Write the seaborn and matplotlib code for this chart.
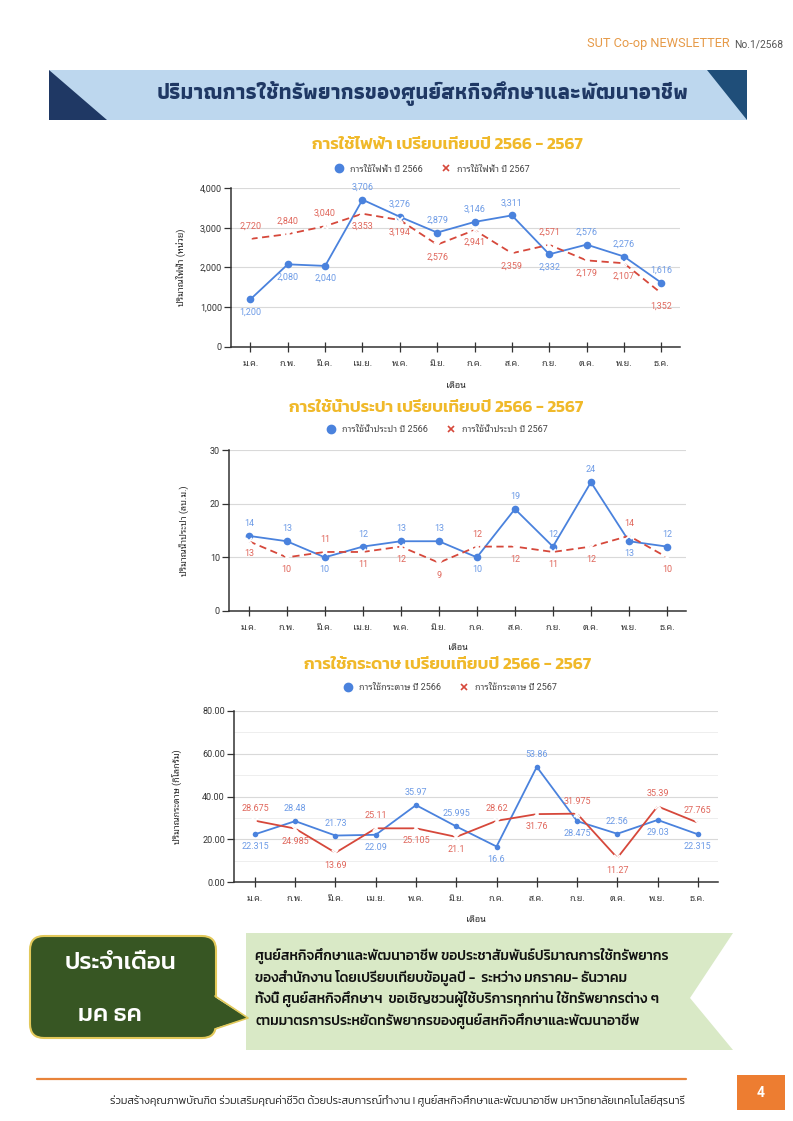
import numpy as np
import seaborn as sns
import matplotlib.pyplot as plt
from matplotlib import font_manager, ft2font
from matplotlib.lines import Line2D
from matplotlib.patches import Polygon, FancyBboxPatch, Rectangle
from matplotlib.ticker import FuncFormatter, MultipleLocator

# page size in px
W, H = 793, 1121

months = ["ม.ค.", "ก.พ.", "มี.ค.", "เม.ย.", "พ.ค.", "มิ.ย.", "ก.ค.", "ส.ค.", "ก.ย.", "ต.ค.", "พ.ย.", "ธ.ค."]

power_names = ["การใช้ไฟฟ้า ปี 2566", "การใช้ไฟฟ้า ปี 2567"]
power_2566 = [1200, 2080, 2040, 3706, 3276, 2879, 3146, 3311, 2332, 2576, 2276, 1616]
power_2567 = [2720, 2840, 3040, 3353, 3194, 2576, 2941, 2359, 2571, 2179, 2107, 1352]

water_names = ["การใช้น้ำประปา ปี 2566", "การใช้น้ำประปา ปี 2567"]
water_2566 = [14, 13, 10, 12, 13, 13, 10, 19, 12, 24, 13, 12]
water_2567 = [13, 10, 11, 11, 12, 9, 12, 12, 11, 12, 14, 10]

paper_names = ["การใช้กระดาษ ปี 2566", "การใช้กระดาษ ปี 2567"]
paper_2566 = [22.315, 28.48, 21.73, 22.09, 35.97, 25.995, 16.6, 53.86, 28.475, 22.56, 29.03, 22.315]
paper_2567 = [28.675, 24.985, 13.69, 25.11, 25.105, 21.1, 28.62, 31.76, 31.975, 11.27, 35.39, 27.765]


def thai_families():
    found = []
    for f in font_manager.fontManager.ttflist:
        try:
            if 0x0E01 in ft2font.FT2Font(f.fname).get_charmap():
                found.append(f.name)
        except Exception:
            pass
    return sorted(set(found))


def pick(prefs, avail):
    for p in prefs:
        if p in avail:
            return p
    return avail[0] if avail else "DejaVu Sans"


sns.set_style("white")
THAI_LIST = thai_families()
THAI = pick(["Kanit", "Prompt", "Mitr", "IBM Plex Sans Thai", "Anuphan"], THAI_LIST)
THAI_NARROW = pick(["Athiti", "Noto Sans Thai", THAI], THAI_LIST)
THAI_LOOP = pick(["Noto Sans Thai Looped", "Sarabun", "IBM Plex Sans Thai Looped", "Noto Sans Thai", THAI], THAI_LIST)
plt.rcParams["font.family"] = ["Roboto", THAI_LOOP, "DejaVu Sans"]
TH = [THAI, "DejaVu Sans"]
THN = [THAI_NARROW, "DejaVu Sans"]

BLUE, BLUE_T = "#4a82dd", "#6d9be6"
RED, RED_T = "#d6483b", "#e0675c"
GOLD = "#f0b92a"

fig = plt.figure(figsize=(W / 100, H / 100), dpi=100)


def frac(x0, y0, x1, y1):
    return [x0 / W, 1 - y1 / H, (x1 - x0) / W, (y1 - y0) / H]


# page decoration layer
bg = fig.add_axes([0, 0, 1, 1])
bg.set_xlim(0, W)
bg.set_ylim(H, 0)
bg.axis("off")

bg.text(730, 44, "SUT Co-op NEWSLETTER", ha="right", va="center", fontsize=9.2, color="#e69a48",
        family=["Roboto", "DejaVu Sans"])
bg.text(783, 44, "No.1/2568", ha="right", va="center", fontsize=7.4, color="#555555")

bg.add_patch(Rectangle((49, 70), 698, 50, fc="#bdd7ee", ec="none"))
bg.add_patch(Polygon([(49, 70), (49, 120), (107, 120)], fc="#1f3864", ec="none"))
bg.add_patch(Polygon([(707, 70), (747, 70), (747, 120)], fc="#1f4e79", ec="none"))
bg.text(423, 94, "ปริมาณการใช้ทรัพยากรของศูนย์สหกิจศึกษาและพัฒนาอาชีพ", ha="center", va="center",
        fontsize=15.6, fontweight="bold", color="#1f3864", family=THN)

# callout box
bg.add_patch(FancyBboxPatch((30, 936), 186, 102, boxstyle="round,pad=0,rounding_size=14",
                            fc="#375623", ec="#e2c95a", lw=1.5))
bg.add_patch(Polygon([(213, 996), (248, 1018), (213, 1029)], fc="#375623", ec="none"))
bg.plot([215, 248, 215], [996, 1018, 1029], color="#e2c95a", lw=1.2)
bg.text(121, 963, "ประจำเดือน", ha="center", va="center", fontsize=17.5, fontweight=500, color="white", family=TH)
bg.text(110, 1015, "มค ธค", ha="center", va="center", fontsize=17.5, fontweight=500, color="white", family=TH)

bg.add_patch(Polygon([(246, 933), (733, 933), (690, 998), (733, 1050), (246, 1050)], fc="#d9e9c6", ec="none"))
lines = ["ศูนย์สหกิจศึกษาและพัฒนาอาชีพ ขอประชาสัมพันธ์ปริมาณการใช้ทรัพยากร",
         "ของสำนักงาน โดยเปรียบเทียบข้อมูลปี -  ระหว่าง มกราคม- ธันวาคม",
         "ทั้งนี้ ศูนย์สหกิจศึกษาฯ  ขอเชิญชวนผู้ใช้บริการทุกท่าน ใช้ทรัพยากรต่าง ๆ",
         "ตามมาตรการประหยัดทรัพยากรของศูนย์สหกิจศึกษาและพัฒนาอาชีพ"]
for k, t in enumerate(lines):
    bg.text(255, 956 + k * 21.5, t, ha="left", va="center", fontsize=10, fontweight=500, color="#111111", family=TH)

# footer
bg.plot([37, 686], [1079, 1079], color="#e8833a", lw=1.6)
bg.text(398, 1100, "ร่วมสร้างคุณภาพบัณฑิต ร่วมเสริมคุณค่าชีวิต ด้วยประสบการณ์ทำงาน I ศูนย์สหกิจศึกษาและพัฒนาอาชีพ มหาวิทยาลัยเทคโนโลยีสุรนารี",
        ha="center", va="center", fontsize=7.8, fontweight=300, color="#222222", family=TH)
bg.add_patch(Rectangle((737, 1075), 48, 35, fc="#ed7d31", ec="none"))
bg.text(761, 1093, "4", ha="center", va="center", fontsize=10, color="white", fontweight="bold")


def chart(box, s1, s2, names, ylim, step, fmt, lab, title, title_xy, legend_xy, ylabel, ylab_x, xlab_y,
          dashed=True, ms=5.5, minor=None):
    x0, y0, x1, y1 = box
    ax = fig.add_axes(frac(*box))
    ax.set_facecolor("none")
    xs = np.arange(len(months))
    sns.lineplot(x=xs, y=s1, ax=ax, color=BLUE, lw=1.3, marker="o", markersize=ms,
                 markeredgewidth=0, zorder=3)
    sns.lineplot(x=xs, y=s2, ax=ax, color=RED, lw=1.3, linestyle=(0, (4, 2.5)) if dashed else "-",
                 marker="x", markersize=5, markeredgewidth=1.3, zorder=4)
    # higher point of each month gets its label above, lower one below
    for i, (a, b) in enumerate(zip(s1, s2)):
        da, db = (9, -9) if a > b else (-9, 9)
        ax.annotate(lab(a), (i, a), xytext=(0, da), textcoords="offset points", ha="center", va="center",
                    color=BLUE_T, fontsize=6.5)
        ax.annotate(lab(b), (i, b), xytext=(0, db), textcoords="offset points", ha="center", va="center",
                    color=RED_T, fontsize=6.5)
    ax.set_xlim(-0.52, 11.5)
    ax.set_ylim(*ylim)
    ax.set_xticks(xs, months)
    ax.yaxis.set_major_locator(MultipleLocator(step))
    ax.yaxis.set_major_formatter(FuncFormatter(fmt))
    if minor:
        ax.yaxis.set_minor_locator(MultipleLocator(minor))
        ax.grid(axis="y", which="minor", color="#eeeeee", lw=0.7)
    ax.grid(axis="y", which="major", color="#d9d9d9", lw=0.8)
    ax.set_axisbelow(True)
    ax.tick_params(axis="x", direction="inout", length=7, width=0.9, color="#333333",
                   labelsize=6.5, labelcolor="#333333", pad=5, bottom=True)
    ax.tick_params(axis="y", which="major", direction="out", length=5, width=0.9, color="#333333",
                   labelsize=6.5, labelcolor="#333333", pad=1.5, left=True)
    ax.tick_params(axis="y", which="minor", length=0)
    sns.despine(ax=ax)
    for s in ("left", "bottom"):
        ax.spines[s].set_color("#333333")
        ax.spines[s].set_linewidth(1.1)
    ax.set_ylabel(ylabel, fontsize=6.5, color="#222222")
    ax.yaxis.set_label_coords((ylab_x - x0) / (x1 - x0), 0.5)
    ax.set_xlabel("เดือน", fontsize=6.5, color="#222222")
    ax.xaxis.set_label_coords(0.5, -(xlab_y - y1) / (y1 - y0))
    fig.text(title_xy[0] / W, 1 - title_xy[1] / H, title, ha="center", va="center", fontsize=12.3,
             fontweight=600, color=GOLD, family=TH)
    handles = [Line2D([], [], color=BLUE, marker="o", linestyle="none", markersize=6),
               Line2D([], [], color=RED, marker="x", linestyle="none", markersize=4, markeredgewidth=1.2)]
    fig.legend(handles, names, loc="center", bbox_to_anchor=(legend_xy[0] / W, 1 - legend_xy[1] / H),
               ncol=2, frameon=False, fontsize=6.5, handletextpad=0.2, columnspacing=1.6,
               labelcolor="#444444")
    return ax


chart((231, 188, 680, 347), power_2566, power_2567, power_names, (0, 4000), 1000,
      lambda v, p: f"{v:,.0f}", lambda v: f"{v:,}", "การใช้ไฟฟ้า เปรียบเทียบปี 2566 - 2567",
      (447, 145), (430, 169), "ปริมาณไฟฟ้า (หน่วย)", 186, 381)

chart((229, 450, 686, 611), water_2566, water_2567, water_names, (0, 30), 10,
      lambda v, p: f"{v:.0f}", lambda v: f"{v}", "การใช้น้ำประปา เปรียบเทียบปี 2566 - 2567",
      (436, 408), (435, 430), "ปริมาณน้ำประปา (ลบ.ม.)", 189, 643)

chart((234, 711, 718, 882), paper_2566, paper_2567, paper_names, (0, 80), 20,
      lambda v, p: f"{v:.2f}", lambda v: f"{v:g}", "การใช้กระดาษ เปรียบเทียบปี 2566 - 2567",
      (448, 665), (448, 688), "ปริมาณกระดาษ (กิโลกรัม)", 182, 915, dashed=False, ms=4, minor=10)

fig.savefig("out.png", dpi=100)
